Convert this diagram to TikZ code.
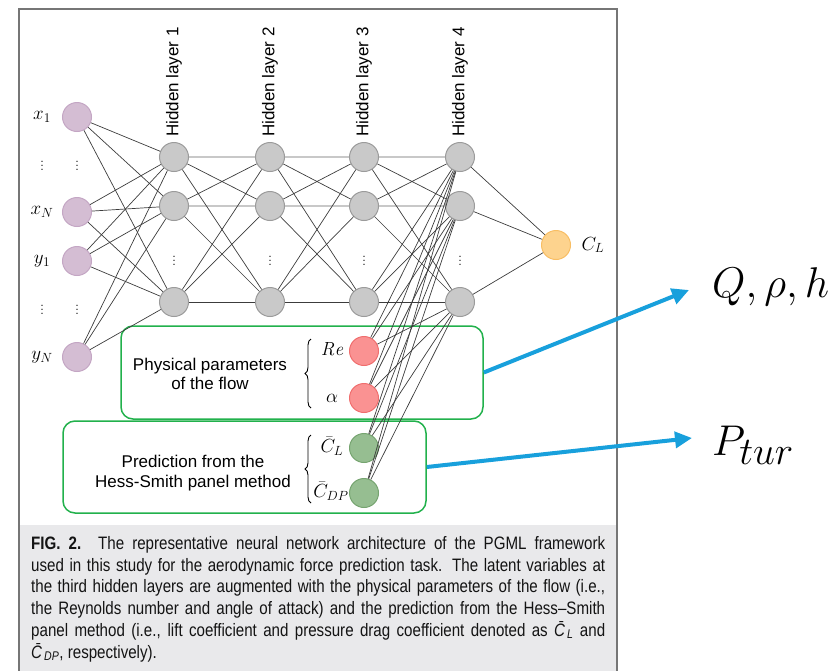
\RequirePackage{fix-cm}
\documentclass[tikz,border=0pt]{standalone}
\usepackage{fontspec}
\usepackage{graphicx}
\usetikzlibrary{arrows.meta,decorations.pathreplacing}
\newfontfamily\lblfont{Liberation Sans}
\newfontfamily\capfont[FakeStretch=0.84]{Liberation Sans}
\definecolor{inpfill}{RGB}{212,189,211}
\definecolor{inpdraw}{RGB}{196,166,196}
\definecolor{hidfill}{RGB}{201,201,201}
\definecolor{hiddraw}{RGB}{155,155,155}
\definecolor{outfill}{RGB}{253,211,142}
\definecolor{outdraw}{RGB}{248,190,100}
\definecolor{redfill}{RGB}{250,146,146}
\definecolor{reddraw}{RGB}{240,110,110}
\definecolor{grnfill}{RGB}{150,190,145}
\definecolor{grndraw}{RGB}{118,164,112}
\definecolor{boxgreen}{RGB}{34,177,76}
\definecolor{arrblue}{RGB}{24,160,220}
\definecolor{linec}{RGB}{60,60,60}
\definecolor{lightc}{RGB}{200,200,200}
\definecolor{framec}{RGB}{118,118,118}
\definecolor{capbg}{RGB}{233,233,235}
\definecolor{captext}{RGB}{20,20,20}
\begin{document}
\begin{tikzpicture}[x=1pt,y=-1pt,
  neuron/.style={circle,minimum size=29pt,inner sep=0pt,line width=1pt},
  inp/.style={neuron,fill=inpfill,draw=inpdraw},
  hid/.style={neuron,fill=hidfill,draw=hiddraw},
  outn/.style={neuron,fill=outfill,draw=outdraw},
  redn/.style={neuron,fill=redfill,draw=reddraw},
  grnn/.style={neuron,fill=grnfill,draw=grndraw},
  conn/.style={draw=linec,line width=0.7pt},
  lconn/.style={draw=lightc,line width=1.6pt},
  mlbl/.style={inner sep=0pt,font=\fontsize{19}{21}\selectfont},
  dotlbl/.style={inner sep=0pt,font=\fontsize{16}{18}\selectfont},
  hlbl/.style={rotate=90,anchor=west,inner sep=0pt,font=\lblfont\fontsize{17}{19}\selectfont},
  txtlbl/.style={align=center,inner sep=0pt,font=\lblfont\fontsize{17}{19.5}\selectfont},
  gbox/.style={draw=boxgreen,line width=1.5pt,rounded corners=12pt,inner sep=0pt},
  bracestyle/.style={decorate,decoration={brace,amplitude=6pt},line width=0.9pt},
  barrow/.style={draw=arrblue,line width=4pt,-{Triangle[length=17pt,width=16pt]}},
  capline/.style={anchor=base west,inner sep=0pt,text=captext,font=\capfont\fontsize{18}{20}\selectfont},
  biglbl/.style={anchor=base west,inner sep=0pt,font=\fontsize{43}{46}\selectfont}
]
\useasboundingbox (0,0) rectangle (838,670);
% frame and caption background
\fill[capbg] (19,525) rectangle (617,672);
\draw[framec,line width=1.6pt] (19,672) -- (19,9) -- (617,9) -- (617,672);

% green boxes
\node[gbox,minimum width=362pt,minimum height=93pt] (box1) at (302,372.5) {};
\node[gbox,minimum width=363pt,minimum height=92pt] (box2) at (244.5,467) {};
\node[txtlbl] (t1) at (210,374) {Physical parameters\\of the flow};
\node[txtlbl] (t2) at (193,473) {Prediction from the\\Hess-Smith panel method};
\coordinate (b1a) at (311,408); \coordinate (b1b) at (311,339);
\coordinate (b2a) at (311,503); \coordinate (b2b) at (311,435);
\draw[bracestyle] (b1a) -- (b1b);
\draw[bracestyle] (b2a) -- (b2b);

% input layer
\node[inp] (x1) at (77,117) {};
\node[inp] (xN) at (77,212) {};
\node[inp] (y1) at (77,261) {};
\node[inp] (yN) at (77,357) {};
\node[mlbl] (lx1) at (42,117) {$x_1$};
\node[mlbl] (lxN) at (42,212) {$x_N$};
\node[mlbl] (ly1) at (42,261) {$y_1$};
\node[mlbl] (lyN) at (42,357) {$y_N$};
\node[dotlbl] (d1) at (42,163) {$\vdots$};
\node[dotlbl] (d2) at (77,163) {$\vdots$};
\node[dotlbl] (d3) at (42,307) {$\vdots$};
\node[dotlbl] (d4) at (77,307) {$\vdots$};

% hidden layers
\foreach \i/\x in {1/174,2/270,3/364,4/460}{
  \node[hid] (h\i a) at (\x,157) {};
  \node[hid] (h\i b) at (\x,206) {};
  \node[hid] (h\i c) at (\x,302) {};
  \node[dotlbl] (hd\i) at (\x,258) {$\vdots$};
  \node[hlbl] (hl\i) at (\x,137) {Hidden layer \i};
}

% output
\node[outn] (out) at (556,245) {};
\node[mlbl] (lout) at (593,245) {$C_L$};

% augmented inputs
\node[redn] (re) at (364,351) {};
\node[redn] (al) at (364,398) {};
\node[grnn] (cl) at (364,448) {};
\node[grnn] (cdp) at (364,493) {};
\node[mlbl] (lre) at (332,349) {$\mathit{Re}$};
\node[mlbl] (lal) at (332,398) {$\alpha$};
\node[mlbl] (lcl) at (332,446) {$\bar{C}_L$};
\node[mlbl] (lcdp) at (331,491) {$\bar{C}_{DP}$};

% connections input -> h1
\foreach \s in {x1,xN,y1,yN}
  \foreach \t in {h1a,h1b,h1c}
    \draw[conn] (\s) -- (\t);
% hidden -> hidden
\foreach \i/\j in {1/2,2/3,3/4}{
  \draw[lconn] (h\i a) -- (h\j a);
  \draw[lconn] (h\i b) -- (h\j b);
  \draw[conn] (h\i c) -- (h\j c);
  \draw[conn] (h\i a) -- (h\j b);
  \draw[conn] (h\i a) -- (h\j c);
  \draw[conn] (h\i b) -- (h\j a);
  \draw[conn] (h\i b) -- (h\j c);
  \draw[conn] (h\i c) -- (h\j a);
  \draw[conn] (h\i c) -- (h\j b);
}
% h4 -> output
\foreach \s in {h4a,h4b,h4c}
  \draw[conn] (\s) -- (out);
% augmented -> h4
\foreach \s in {re,al,cl,cdp}
  \foreach \t in {h4a,h4b,h4c}
    \draw[conn] (\s) -- (\t);

% blue arrows and labels
\node[biglbl] (qlbl) at (712,297) {$Q,\rho,h$};
\node[biglbl] (plbl) at (712,455) {$P_{\scalebox{1.3}{$\scriptstyle tur$}}$};
\coordinate (qa) at (689,290);
\coordinate (pa) at (692,438);
\draw[barrow] (box1.east) -- (qa);
\draw[barrow] (box2.east) -- (pa);

% caption
\node[capline] (c1) at (31,549) {\makebox[574pt][s]{\bfseries FIG. 2.\mdseries{} The representative neural network architecture of the PGML framework}};
\node[capline] (c2) at (31,571) {\makebox[574pt][s]{used in this study for the aerodynamic force prediction task. The latent variables at}};
\node[capline] (c3) at (31,592.5) {\makebox[574pt][s]{the third hidden layers are augmented with the physical parameters of the flow (i.e.,}};
\node[capline] (c4) at (31,614.5) {\makebox[574pt][s]{the Reynolds number and angle of attack) and the prediction from the Hess\textendash Smith}};
\node[capline] (c5) at (31,636) {\makebox[574pt][s]{panel method (i.e., lift coefficient and pressure drag coefficient denoted as \textit{\={C}}\textsubscript{\textit{L}} and}};
\node[capline] (c6) at (31,658) {\textit{\={C}}\textsubscript{\textit{DP}}, respectively).};
\end{tikzpicture}
\end{document}
